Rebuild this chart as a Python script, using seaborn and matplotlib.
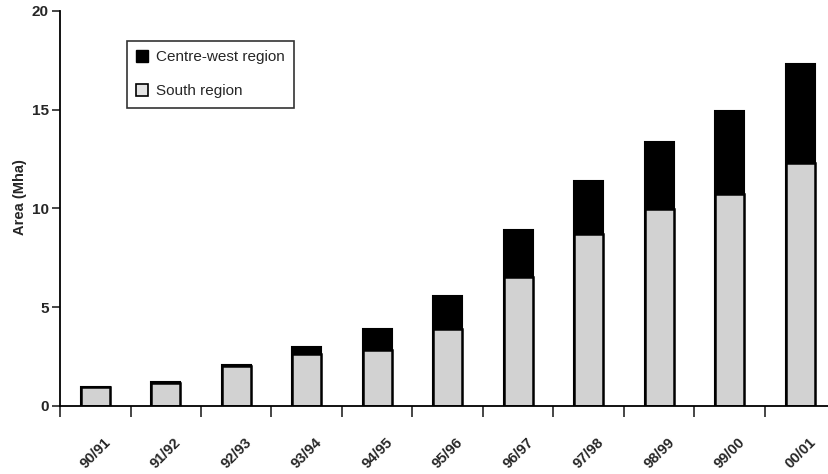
import pandas as pd
import numpy as np
import matplotlib
matplotlib.use('Agg')
import matplotlib.pyplot as plt
import matplotlib.transforms as mtrans
import seaborn as sns
from matplotlib.patches import Patch

# values (Mha)
seasons = ['90/91', '91/92', '92/93', '93/94', '94/95', '95/96',
           '96/97', '97/98', '98/99', '99/00', '00/01']
south = [0.95, 1.15, 2.0, 2.65, 2.85, 3.9, 6.55, 8.7, 9.95, 10.75, 12.3]
centre_west = [0.0, 0.08, 0.08, 0.33, 1.05, 1.68, 2.38, 2.69, 3.42, 4.19, 5.0]

df = pd.DataFrame({'season': seasons, 'south': south, 'cw': centre_west})
df['total'] = df['south'] + df['cw']

sns.set_style('white')
plt.rcParams['font.family'] = ['Liberation Sans', 'DejaVu Sans']

fig = plt.figure(figsize=(8.29, 4.74), dpi=100)
ax = fig.add_axes([0.0724, 0.1435, 0.9276, 0.8333])

# total bar in black, south region drawn over it
sns.barplot(data=df, x='season', y='total', color='black', width=0.41,
            saturation=1, edgecolor='black', linewidth=1.5, ax=ax)
sns.barplot(data=df, x='season', y='south', color='#d2d2d2', width=0.41,
            saturation=1, edgecolor='black', linewidth=1.8, ax=ax)

ax.set_ylim(0, 20)
ax.set_xlim(-0.5, 10.41)
ax.set_yticks([0, 5, 10, 15, 20])
ax.set_yticklabels(['0', '5', '10', '15', '20'], fontsize=11, fontweight='bold')
ax.tick_params(axis='y', direction='out', length=6, width=1.2, left=True, pad=2)

# tick marks between bars, labels under bar centres
n = len(seasons)
ax.set_xticks(np.arange(n) - 0.5)
ax.set_xticklabels([])
ax.set_xticks(np.arange(n), minor=True)
ax.set_xticklabels(seasons, minor=True, rotation=45, ha='center', va='top',
                   fontsize=10.5, fontweight='bold')
shift = mtrans.ScaledTranslation(9 / 100, 0, fig.dpi_scale_trans)
for lab in ax.get_xticklabels(minor=True):
    lab.set_transform(lab.get_transform() + shift)
ax.tick_params(axis='x', which='major', direction='out', length=8, width=1.2, bottom=True)
ax.tick_params(axis='x', which='minor', length=0, pad=21)

ax.set_xlabel('')
ax.set_ylabel('')
fig.text(20 / 829, 1 - 197 / 474, 'Area (Mha)', rotation=90, ha='center', va='center',
         fontsize=10.5, fontweight='bold')

sns.despine(ax=ax)
for s in ['left', 'bottom']:
    ax.spines[s].set_linewidth(1.3)
    ax.spines[s].set_color('black')

handles = [Patch(facecolor='black', edgecolor='black', label='Centre-west region'),
           Patch(facecolor='#e4e4e4', edgecolor='black', linewidth=1.2, label='South region')]
leg = ax.legend(handles=handles, loc='upper left', bbox_to_anchor=(0.087, 0.924),
                borderaxespad=0, fontsize=11, frameon=True, fancybox=False,
                edgecolor='black', handlelength=0.8, handleheight=0.8,
                labelspacing=1.3, borderpad=0.6, handletextpad=0.5)
leg.get_frame().set_linewidth(1.2)

fig.savefig('out.png', dpi=100)
